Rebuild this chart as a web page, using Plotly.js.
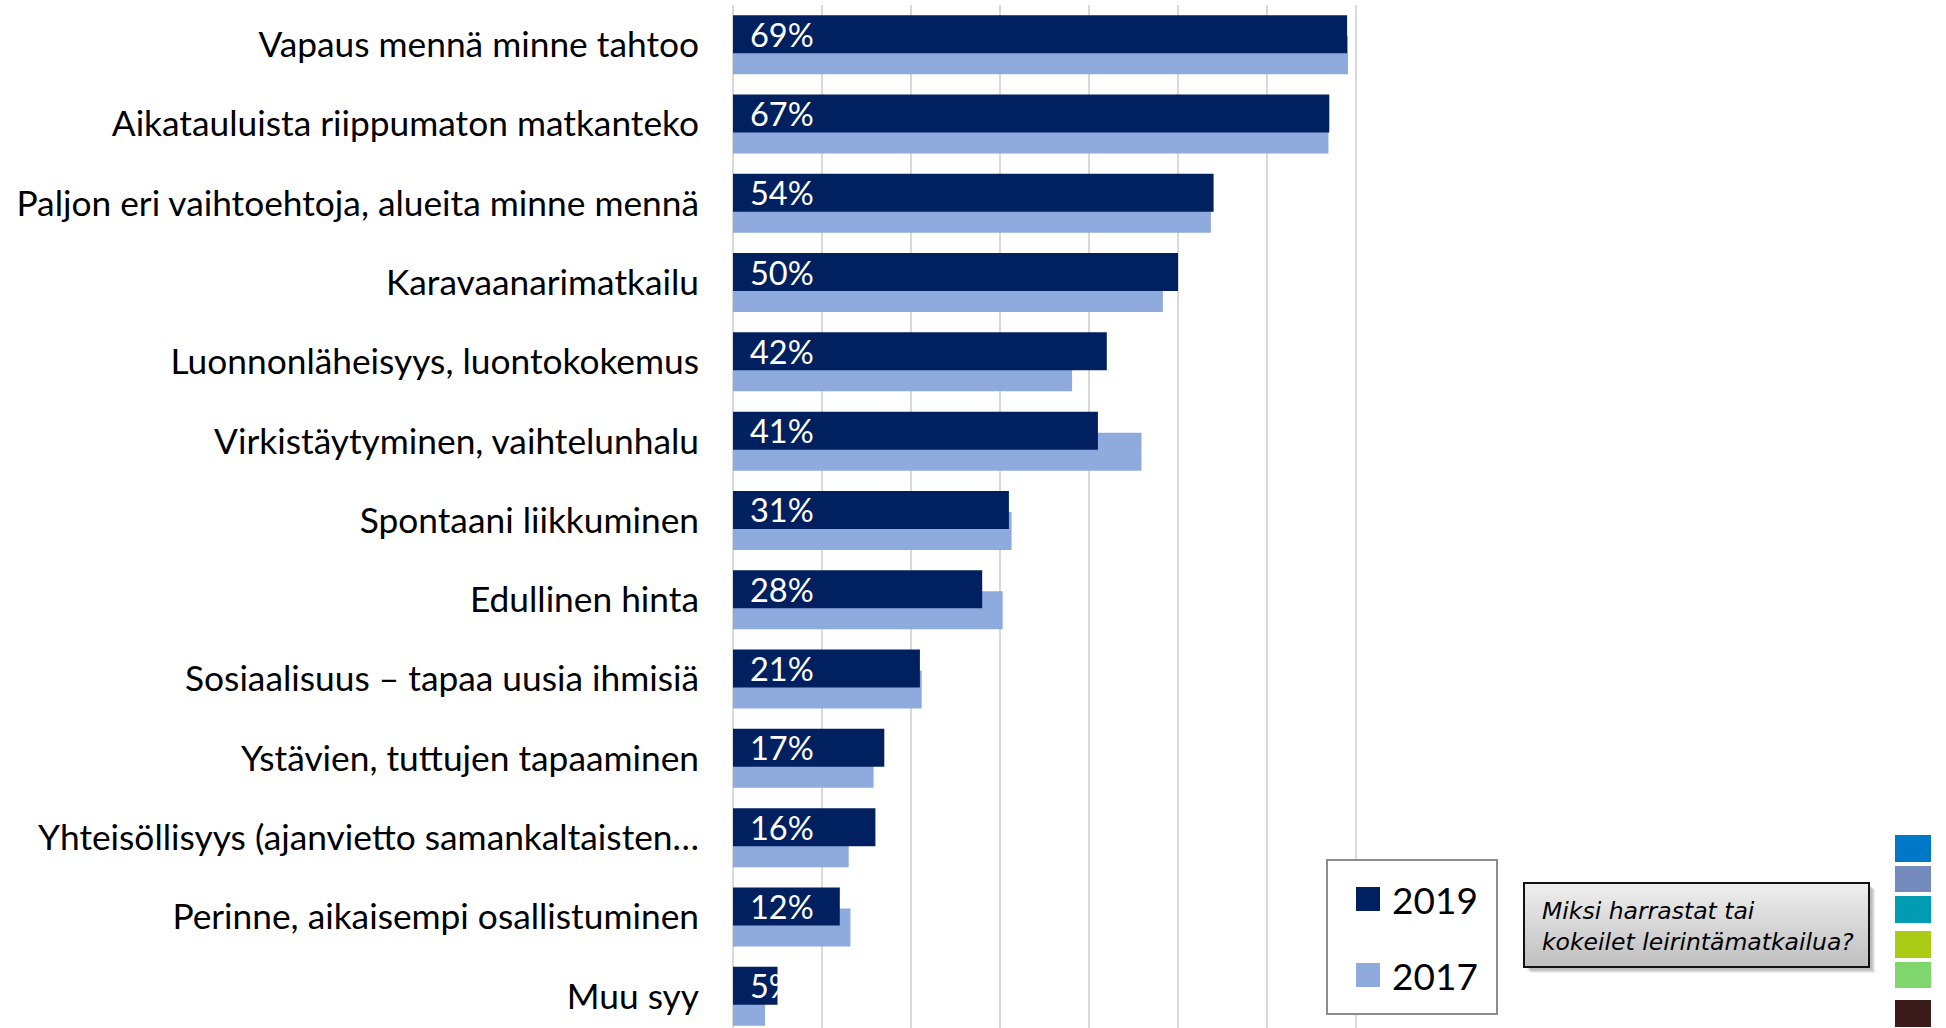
<!DOCTYPE html>
<html>
<head>
<meta charset="utf-8">
<script src="https://cdn.plot.ly/plotly-3.0.1.min.js"></script>
<style>
  html, body { margin: 0; padding: 0; background: #ffffff; }
  #chart { width: 1946px; height: 1028px; }
</style>
</head>
<body>
<div id="chart"></div>
<script>
// ---------------- data ----------------
const categories = [
  "Vapaus mennä minne tahtoo",
  "Aikatauluista riippumaton matkanteko",
  "Paljon eri vaihtoehtoja, alueita minne mennä",
  "Karavaanarimatkailu",
  "Luonnonläheisyys, luontokokemus",
  "Virkistäytyminen, vaihtelunhalu",
  "Spontaani liikkuminen",
  "Edullinen hinta",
  "Sosiaalisuus – tapaa uusia ihmisiä",
  "Ystävien, tuttujen tapaaminen",
  "Yhteisöllisyys (ajanvietto samankaltaisten…",
  "Perinne, aikaisempi osallistuminen",
  "Muu syy"
];
const values2019 = [69, 67, 54, 50, 42, 41, 31, 28, 21, 17, 16, 12, 5];
const values2017 = [69.1, 66.9, 53.7, 48.3, 38.1, 45.9, 31.3, 30.3, 21.2, 15.8, 13.0, 13.2, 3.6];
const seriesNames = ["2019", "2017"];
const questionText = "Miksi harrastat tai<br>kokeilet leirintämatkailua?";

// ---------------- styles ----------------
const W = 1946, H = 1028;
const M = { l: 733, r: 501, t: 5, b: 0 };
const plotW = W - M.l - M.r, plotH = H - M.t - M.b;
const px2x = px => (px - M.l) / plotW;
const py2y = py => (H - M.b - py) / plotH;

const DARK = "#002060";
const LIGHT = "#8FAADC";
const GRID = "#d9d9d9";
const FONT = "Lato, 'Open Sans', sans-serif";

const barWidth = 0.479;

const trace2017 = {
  type: "bar", orientation: "h", name: seriesNames[1],
  y: categories, x: values2017,
  width: barWidth, offset: -0.107,
  marker: { color: LIGHT },
  hovertemplate: "%{y}: %{x}%<extra>" + seriesNames[1] + "</extra>",
  showlegend: false
};
const trace2019 = {
  type: "bar", orientation: "h", name: seriesNames[0],
  y: categories, x: values2019,
  width: barWidth, offset: -0.372,
  marker: { color: DARK },
  hovertemplate: "%{y}: %{x}%<extra>" + seriesNames[0] + "</extra>",
  showlegend: false
};

// data labels for 2019, positioned on the category axis
const annotations = values2019.map((v, i) => ({
  xref: "x", yref: "y", x: 0, y: categories[i],
  xanchor: "left", yanchor: "middle",
  xshift: 15, yshift: 10.5,
  text: v + "%", showarrow: false,
  font: { family: FONT, size: 32.5, color: "#ffffff" }
}));

const shapes = [];

// legend box
shapes.push({
  type: "rect", xref: "paper", yref: "paper", layer: "above",
  x0: px2x(1327), x1: px2x(1497), y0: py2y(1014), y1: py2y(860),
  fillcolor: "#ffffff", line: { color: "#8c8c8c", width: 2 }
});
const legendColors = [DARK, LIGHT];
const legendRowY = [899, 975];
seriesNames.forEach((name, i) => {
  shapes.push({
    type: "rect", xref: "paper", yref: "paper", layer: "above",
    x0: px2x(1356), x1: px2x(1380),
    y0: py2y(legendRowY[i] + 12), y1: py2y(legendRowY[i] - 12),
    fillcolor: legendColors[i], line: { width: 0 }
  });
  annotations.push({
    xref: "paper", yref: "paper", x: px2x(1390), y: py2y(legendRowY[i]),
    xanchor: "left", yanchor: "middle", showarrow: false,
    text: name, font: { family: FONT, size: 37, color: "#000000" }
  });
});

// question box: shadow, gradient, border
const bx0 = 1524, bx1 = 1869, by0 = 883, by1 = 967;
for (let k = 4; k >= 1; k--) {
  shapes.push({
    type: "rect", xref: "paper", yref: "paper", layer: "above",
    x0: px2x(bx0 + 2 + k), x1: px2x(bx1 + 2 + k), y0: py2y(by1 + 2 + k), y1: py2y(by0 + 2 + k),
    fillcolor: "rgba(0,0,0,0.07)", line: { width: 0 }
  });
}
const steps = 24;
for (let s = 0; s < steps; s++) {
  const t = s / (steps - 1);
  const g = Math.round(238 - t * (238 - 192));
  const ya = by0 + (by1 - by0) * s / steps;
  const yb = by0 + (by1 - by0) * (s + 1) / steps;
  shapes.push({
    type: "rect", xref: "paper", yref: "paper", layer: "above",
    x0: px2x(bx0), x1: px2x(bx1), y0: py2y(yb + 0.5), y1: py2y(ya),
    fillcolor: "rgb(" + g + "," + g + "," + g + ")", line: { width: 0 }
  });
}
shapes.push({
  type: "rect", xref: "paper", yref: "paper", layer: "above",
  x0: px2x(bx0), x1: px2x(bx1), y0: py2y(by1), y1: py2y(by0),
  fillcolor: "rgba(0,0,0,0)", line: { color: "#111111", width: 2 }
});
annotations.push({
  xref: "paper", yref: "paper", x: px2x(1540), y: py2y((by0 + by1) / 2 + 1),
  xanchor: "left", yanchor: "middle", align: "left", showarrow: false,
  text: "<i>" + questionText + "</i>",
  font: { family: "DejaVu Sans, Verdana, sans-serif", size: 23.5, color: "#000000" }
});

// decorative colour swatches at right edge
const swatchColors = ["#0078C8", "#748BBD", "#009CB4", "#AACC14", "#7ED66C", "#3C1C1A"];
const swatchY = [[835, 862], [866, 892], [896, 923], [931, 958], [962, 988], [1000, 1027]];
swatchColors.forEach((c, i) => {
  shapes.push({
    type: "rect", xref: "paper", yref: "paper", layer: "above",
    x0: px2x(1895), x1: px2x(1931), y0: py2y(swatchY[i][1]), y1: py2y(swatchY[i][0]),
    fillcolor: c, line: { width: 0 }
  });
});

const layout = {
  width: W, height: H,
  margin: M,
  paper_bgcolor: "#ffffff", plot_bgcolor: "#ffffff",
  barmode: "overlay",
  showlegend: false,
  xaxis: {
    range: [0, 80], dtick: 10, tick0: 0,
    showgrid: true, gridcolor: GRID, gridwidth: 2,
    zeroline: true, zerolinecolor: GRID, zerolinewidth: 2,
    showticklabels: false, ticks: "", showline: false,
    fixedrange: true, automargin: false
  },
  yaxis: {
    type: "category",
    range: [12.4, -0.5], autorange: false,
    showgrid: false, zeroline: false, showline: false,
    ticks: "", ticklabelstandoff: 33,
    tickfont: { family: FONT, size: 35.3, color: "#000000" },
    fixedrange: true, automargin: false
  },
  annotations: annotations,
  shapes: shapes,
  font: { family: FONT }
};

Plotly.newPlot("chart", [trace2017, trace2019], layout, { displayModeBar: false, staticPlot: true });
</script>
</body>
</html>
